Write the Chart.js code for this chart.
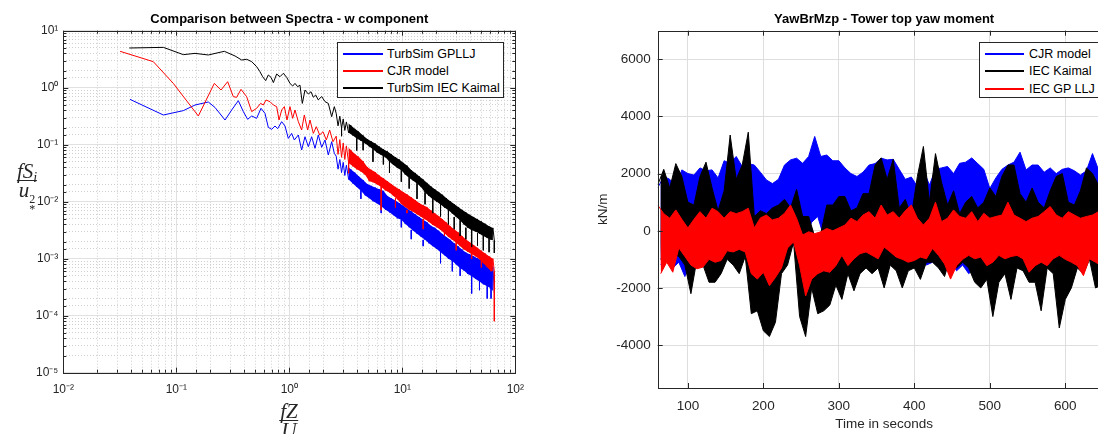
<!DOCTYPE html>
<html>
<head>
<meta charset="utf-8">
<title>Spectra and yaw moment</title>
<script src="https://cdn.jsdelivr.net/npm/chart.js@4.4.1/dist/chart.umd.min.js"></script>
<style>
  html, body { margin: 0; padding: 0; background: #fff; overflow: hidden; }
  body { width: 1098px; height: 434px; position: relative; font-family: "Liberation Sans", Arial, sans-serif; }
  canvas { position: absolute; top: 0; }
  #spectra { left: 0; }
  #moment { left: 560px; }
  .legend { position: absolute; background: #fff; border: 1px solid #262626; box-sizing: border-box; font-size: 12.5px; color: #000; }
  .legend .row { position: absolute; left: 0; height: 0; }
  .legend .swatch { position: absolute; height: 2px; top: -1px; }
  .legend .txt { position: absolute; top: -8px; line-height: 16px; white-space: nowrap; }
  .frac { position: absolute; transform: translateX(-50%); font-family: "Liberation Serif", serif; font-style: italic; font-size: 21px; color: #262626; display: flex; flex-direction: column; align-items: center; }
  .frac .num { height: 17px; line-height: 17px; padding: 0 2px; white-space: nowrap; }
  .frac .den { border-top: 1px solid #262626; line-height: 18px; padding: 0 2px; white-space: nowrap; }
  .frac sub { font-size: 14px; line-height: 0; vertical-align: -4px; }
  .frac .ss { display: inline-flex; flex-direction: column; font-size: 12px; line-height: 10px; vertical-align: -6px; font-style: normal; }
</style>
</head>
<body>
<canvas id="spectra" width="540" height="434"></canvas>
<canvas id="moment" width="560" height="434"></canvas>

<div class="legend" style="left:337px;top:42px;width:167px;height:56px">
  <div class="row" style="top:11px"><span class="swatch" style="left:5px;width:40px;background:#0000ff"></span><span class="txt" style="left:49px">TurbSim GPLLJ</span></div>
  <div class="row" style="top:28px"><span class="swatch" style="left:5px;width:40px;background:#ff0000"></span><span class="txt" style="left:49px">CJR model</span></div>
  <div class="row" style="top:45px"><span class="swatch" style="left:5px;width:40px;background:#000000"></span><span class="txt" style="left:49px">TurbSim IEC Kaimal</span></div>
</div>

<div class="legend" style="left:979px;top:42px;width:126px;height:56px">
  <div class="row" style="top:11px"><span class="swatch" style="left:5px;width:39px;background:#0000ff"></span><span class="txt" style="left:49px">CJR model</span></div>
  <div class="row" style="top:28px"><span class="swatch" style="left:5px;width:39px;background:#000000"></span><span class="txt" style="left:49px">IEC Kaimal</span></div>
  <div class="row" style="top:46px"><span class="swatch" style="left:5px;width:39px;background:#ff0000"></span><span class="txt" style="left:49px">IEC GP LLJ</span></div>
</div>

<div class="frac" style="left:27px;top:163px"><span class="num">fS<sub>i</sub></span><span class="den">u<span class="ss"><span>2</span><span>*</span></span></span></div>
<div class="frac" style="left:289px;top:403px"><span class="num">fZ</span><span class="den">U</span></div>

<script>
// ---- left panel: normalised spectra, w component ----
const freqLowBlue = [0.0389, 0.0768, 0.1154, 0.1464, 0.192, 0.22, 0.27, 0.309, 0.354, 0.392,
  0.428, 0.465, 0.514, 0.562, 0.609, 0.652, 0.698, 0.747, 0.789, 0.856,
  0.916, 0.98, 1.049, 1.108, 1.202, 1.286, 1.377, 1.474, 1.577, 1.688,
  1.806, 1.934, 2.07, 2.215, 2.371, 2.503];
const specLowBlue = [0.625, 0.332, 0.396, 0.497, 0.561, 0.45, 0.271, 0.406, 0.592, 0.38,
  0.279, 0.319, 0.29, 0.435, 0.355, 0.2017, 0.186, 0.213, 0.191, 0.2535,
  0.213, 0.129, 0.158, 0.121, 0.148, 0.0807, 0.138, 0.0923, 0.138, 0.0864,
  0.148, 0.0899, 0.121, 0.0659, 0.113, 0.0706];

const freqLowRed = [0.0318, 0.0626, 0.0941, 0.1567, 0.217, 0.2486, 0.2848, 0.3196, 0.342, 0.3737,
  0.4195, 0.4645, 0.514, 0.558, 0.589, 0.622, 0.675, 0.7225, 0.773, 0.811,
  0.856, 0.904, 0.954, 1.014, 1.071, 1.123, 1.202, 1.286, 1.358, 1.454,
  1.525, 1.632, 1.734, 1.857, 1.987, 2.127, 2.276, 2.436];
const specLowRed = [4.35, 2.86, 1.19, 0.319, 1.19, 0.911, 1.276, 0.696, 0.678, 0.936,
  0.696, 0.38, 0.435, 0.532, 0.497, 0.608, 0.569, 0.497, 0.465, 0.271,
  0.406, 0.465, 0.271, 0.465, 0.29, 0.406, 0.2535, 0.181, 0.332, 0.181,
  0.271, 0.158, 0.207, 0.148, 0.169, 0.121, 0.181, 0.113];

const freqLowBlack = [0.0384, 0.0768, 0.1154, 0.1464, 0.192, 0.266, 0.331, 0.379, 0.42, 0.465,
  0.514, 0.55, 0.581, 0.618, 0.652, 0.689, 0.723, 0.773, 0.827, 0.886,
  0.948, 1.014, 1.071, 1.123, 1.186, 1.243, 1.304, 1.377, 1.474, 1.556,
  1.632, 1.711, 1.806, 1.934, 2.07, 2.215, 2.371, 2.503];
const specLowBlack = [4.97, 5.1, 3.8, 4.0, 3.75, 4.35, 3.6, 3.06, 3.15, 2.86,
  2.34, 1.91, 1.56, 1.33, 1.67, 1.52, 1.23, 1.74, 1.56, 1.79,
  1.52, 1.19, 1.07, 1.19, 1.04, 1.11, 0.53, 0.91, 0.775, 0.85,
  0.68, 0.745, 0.61, 0.70, 0.57, 0.53, 0.31, 0.465];

// dense high-frequency part, read as alternating upper / lower edge of each band
const freqHigh = [2.6, 2.7, 2.8, 2.9, 3.0, 3.1, 3.2, 3.35, 3.5, 3.65,
  3.8, 3.95, 4.1, 4.3, 4.5, 4.7, 4.9, 5.1, 5.3, 5.5,
  5.75, 6.0, 6.25, 6.5, 6.8, 7.1, 7.4, 7.7, 8.0, 8.35,
  8.7, 9.05, 9.4, 9.8, 10.2, 10.6, 11.0, 11.5, 12.0, 12.5,
  13.0, 13.5, 14.1, 14.7, 15.3, 15.9, 16.5, 17.2, 17.9, 18.6,
  19.4, 20.2, 21.0, 21.8, 22.7, 23.6, 24.6, 25.6, 26.6, 27.7,
  28.8, 30.0, 31.2, 32.5, 33.8, 35.1, 36.5, 38.0, 39.5, 41.1,
  42.8, 44.5, 46.3, 48.2, 50.1, 52.1, 54.2, 56.4, 58.6, 61.0,
  63.4, 65.2];
const specHighBlue = [0.063, 0.0372, 0.055, 0.0324, 0.049, 0.0288, 0.0437, 0.0245, 0.0372, 0.0209,
  0.0324, 0.0182, 0.0282, 0.0155, 0.024, 0.0129, 0.0204, 0.0115, 0.019, 0.0102,
  0.0178, 0.0093, 0.0166, 0.0083, 0.0155, 0.0072, 0.0126, 0.0065, 0.0115, 0.0058,
  0.0105, 0.0051, 0.0095, 0.0048, 0.0085, 0.0041, 0.0076, 0.00355, 0.0068, 0.0031,
  0.006, 0.00275, 0.0054, 0.0024, 0.0048, 0.00214, 0.0044, 0.00186, 0.0038, 0.00166,
  0.0035, 0.00148, 0.0031, 0.0013, 0.0027, 0.00115, 0.0024, 0.001, 0.00214, 0.00091,
  0.00186, 0.00079, 0.00166, 0.00068, 0.00145, 0.00062, 0.00129, 0.00054, 0.0012, 0.00049,
  0.0011, 0.00044, 0.00102, 0.0004, 0.00095, 0.000355, 0.00089, 0.00033, 0.00079, 0.0003,
  0.00072, 0.00025];
const specHighRed = [0.141, 0.0676, 0.123, 0.06, 0.107, 0.055, 0.0955, 0.0479, 0.081, 0.0417,
  0.069, 0.037, 0.0617, 0.0339, 0.0513, 0.0295, 0.0407, 0.0229, 0.0363, 0.0219,
  0.0331, 0.02, 0.0288, 0.0182, 0.0257, 0.0158, 0.0229, 0.0145, 0.0204, 0.0126,
  0.0182, 0.011, 0.0166, 0.0091, 0.0148, 0.0081, 0.0135, 0.0072, 0.012, 0.0066,
  0.0107, 0.006, 0.0095, 0.0054, 0.0087, 0.0049, 0.0081, 0.0044, 0.0071, 0.0039,
  0.0063, 0.00355, 0.0056, 0.0032, 0.0049, 0.0028, 0.0043, 0.0024, 0.0037, 0.00214,
  0.0033, 0.0019, 0.0029, 0.00166, 0.0025, 0.00145, 0.00219, 0.00132, 0.00195, 0.0012,
  0.00174, 0.0011, 0.00155, 0.00098, 0.00138, 0.00083, 0.00123, 0.00071, 0.0011, 0.0006,
  0.001, 0.0006];
const specHighBlack = [0.355, 0.214, 0.316, 0.195, 0.282, 0.178, 0.251, 0.162, 0.219, 0.145,
  0.19, 0.129, 0.17, 0.117, 0.145, 0.105, 0.126, 0.093, 0.115, 0.083,
  0.105, 0.072, 0.093, 0.066, 0.083, 0.06, 0.076, 0.05, 0.068, 0.044,
  0.06, 0.039, 0.055, 0.0355, 0.048, 0.03, 0.043, 0.026, 0.036, 0.0234,
  0.032, 0.0209, 0.028, 0.018, 0.0245, 0.0145, 0.0214, 0.0126, 0.0186, 0.011,
  0.0166, 0.01, 0.0148, 0.0089, 0.0132, 0.0079, 0.0115, 0.0071, 0.0102, 0.0062,
  0.0091, 0.0054, 0.0081, 0.0047, 0.0072, 0.004, 0.0065, 0.0035, 0.0059, 0.00316,
  0.0054, 0.003, 0.0049, 0.00275, 0.0045, 0.0025, 0.0041, 0.0023, 0.0037, 0.00214,
  0.00347, 0.0021];

// narrow downward spikes below the bands: frequency, band edge, spike tip
const spikeFreqBlue = [4.3, 6.5, 9.8, 12.0, 15.3, 21.8, 27.7, 32.5, 41.1, 48.2, 56.4, 61.0];
const spikeTopBlue = [0.0155, 0.0083, 0.0048, 0.0032, 0.00214, 0.0013, 0.001, 0.00068, 0.00049, 0.00045, 0.00033, 0.00032];
const spikeTipBlue = [0.0112, 0.0063, 0.00355, 0.0022, 0.00166, 0.00083, 0.0006, 0.0005, 0.000245, 0.00028, 0.0002, 0.0002];
const spikeFreqRed = [3.35, 6.5, 8.7, 11.0, 15.3, 23.6, 30.0, 41.1, 50.1, 65.2];
const spikeTopRed = [0.0479, 0.0182, 0.0115, 0.0072, 0.005, 0.0028, 0.0019, 0.0012, 0.001, 0.0006];
const spikeTipRed = [0.0316, 0.0071, 0.0079, 0.0063, 0.0033, 0.0025, 0.0014, 0.001, 0.0007, 0.00008];
const spikeFreqBlack = [2.9, 3.95, 4.5, 5.5, 6.8, 7.7, 9.8, 11.5, 13.5, 15.9, 18.6, 21.8, 25.6, 28.8, 32.5, 36.5, 41.1, 46.3, 52.1, 58.6, 65.2];
const spikeTopBlack = [0.195, 0.129, 0.115, 0.083, 0.066, 0.05, 0.0355, 0.026, 0.0209, 0.0145, 0.011, 0.0089, 0.0071, 0.0054, 0.0047, 0.0035, 0.00316, 0.0028, 0.0025, 0.0023, 0.0021];
const spikeTipBlack = [0.141, 0.079, 0.08, 0.05, 0.045, 0.032, 0.0224, 0.017, 0.0112, 0.009, 0.0063, 0.0055, 0.004, 0.0033, 0.0025, 0.0022, 0.0016, 0.0017, 0.0014, 0.0013, 0.00126];

const spectraXTicks = [0.01, 0.1, 1, 10, 100];
const spectraXLabels = ['10⁻²', '10⁻¹', '10⁰', '10¹', '10²'];
const spectraYTicks = [1e-5, 1e-4, 1e-3, 1e-2, 1e-1, 1, 10];
const spectraYLabels = ['10⁻⁵', '10⁻⁴', '10⁻³', '10⁻²', '10⁻¹', '10⁰', '10¹'];

// ---- right panel: YawBrMzp time series, read as alternating upper / lower edge ----
const timeSeconds = [60, 64, 68, 72, 76, 80, 84, 88, 92, 96,
  100, 104, 108, 112, 116, 120, 124, 128, 132, 136,
  140, 144, 148, 152, 156, 160, 164, 168, 172, 176,
  180, 184, 188, 192, 196, 200, 204, 208, 212, 216,
  220, 224, 228, 232, 236, 240, 244, 248, 252, 256,
  260, 264, 268, 272, 276, 280, 284, 288, 292, 296,
  300, 304, 308, 312, 316, 320, 324, 328, 332, 336,
  340, 344, 348, 352, 356, 360, 364, 368, 372, 376,
  380, 384, 388, 392, 396, 400, 404, 408, 412, 416,
  420, 424, 428, 432, 436, 440, 444, 448, 452, 456,
  460, 464, 468, 472, 476, 480, 484, 488, 492, 496,
  500, 504, 508, 512, 516, 520, 524, 528, 532, 536,
  540, 544, 548, 552, 556, 560, 564, 568, 572, 576,
  580, 584, 588, 592, 596, 600, 604, 608, 612, 616,
  620, 624, 628, 632, 636, 640, 644, 648, 652, 656,
  660];
const momentCJR = [1500, -1200, 1900, -900, 1800, -1300, 1550, -1100, 2130, -1600,
  2000, -1000, 1950, -800, 2200, -1100, 2100, -900, 2130, -1000,
  1850, -700, 2450, -900, 2360, -800, 2600, -700, 2250, -600,
  2350, -900, 2300, -1000, 2050, -1200, 1780, -1100, 1650, -900,
  1800, -800, 2300, -700, 2480, -500, 2540, -300, 2360, -200,
  2600, 300, 3300, 500, 2600, -200, 2650, -600, 2450, -800,
  2450, -700, 2200, -900, 2000, -1000, 1900, -1100, 2050, -1000,
  2300, -800, 2350, -600, 2540, -900, 2480, -700, 2500, -1000,
  2150, -1100, 1800, -1200, 1880, -1000, 1550, -900, 2130, -1200,
  1600, -1100, 2150, -1000, 2200, -1300, 2250, -1100, 2000, -1400,
  2360, -1200, 2400, -1500, 2550, -1300, 2350, -1100, 2150, -1200,
  1480, -1400, 1850, -1000, 2150, -900, 2300, -1100, 2400, -1000,
  2750, -1200, 2130, -1300, 2300, -1100, 2300, -1200, 2050, -1300,
  2200, -1000, 2000, -1100, 2150, -1300, 2200, -1000, 2100, -1200,
  1950, -1100, 2100, -900, 2700, -1000, 2130, -1200, 2200, -1100,
  2000];
const momentKaimal = [1600, -1000, 2150, -600, 1500, -800, 2350, -900, 1900, -1200,
  1000, -2200, 900, -1000, 1900, -1200, 2400, -1800, 1500, -1800,
  700, -1500, 1400, -1000, 3350, -1200, 1800, -1500, 2300, -900,
  3450, -2900, 500, -2800, 700, -3500, 600, -3700, 800, -3200,
  900, -1500, 1100, -1200, 800, -400, 1450, -3000, 500, -3700,
  500, -2000, -200, -2900, -100, -2800, 900, -2600, 900, -1900,
  1200, -2400, 1200, -1500, 700, -2100, 800, -1500, 1300, -1300,
  1300, -1500, 2300, -1300, 2550, -2000, 1800, -1200, 2500, -1400,
  800, -2000, 1100, -1400, 500, -1300, 1900, -1700, 2950, -1100,
  1000, -1100, 2700, -1300, 1700, -1600, 900, -900, 1400, -1300,
  600, -1100, 1000, -1300, 1200, -1800, 800, -2000, 1000, -1700,
  1500, -3000, 1200, -1800, 1900, -1500, 2300, -2400, 2300, -1300,
  1300, -1400, 1000, -1800, 1500, -1800, 1000, -2800, 800, -1300,
  1400, -1500, 1900, -3400, 2000, -2400, 1000, -2000, 900, -1300,
  1400, -1500, 2200, -1000, 2000, -2000, 1600, -1900, 1200, -1400,
  1000];
const momentLLJ = [900, -1500, 600, -1100, 440, -1450, 730, -600, 400, -900,
  100, -1200, 400, -1330, 670, -1270, 440, -1000, 790, -1100,
  670, -1040, 440, -700, 670, -740, 600, -650, 670, -740,
  790, -1500, 100, -1690, 450, -1450, 550, -1920, 380, -1630,
  440, -1300, 610, -600, 900, -390, 440, -1220, -150, -2280,
  -35, -1690, -100, -1500, -35, -1400, 80, -1450, 0, -1220,
  100, -860, 200, -1220, 440, -980, 320, -800, 550, -740,
  670, -860, 440, -980, 900, -570, 550, -740, 670, -920,
  440, -1000, 700, -1100, 900, -1040, 440, -920, 200, -980,
  440, -620, 1000, -860, 320, -1160, 440, -1690, 730, -1220,
  500, -1000, 440, -860, 670, -980, 320, -920, 610, -1220,
  440, -1100, 500, -860, 550, -980, 1000, -900, 550, -860,
  440, -980, 320, -1450, 440, -1220, 500, -1100, 670, -1220,
  850, -980, 550, -860, 440, -1000, 670, -1100, 550, -1220,
  440, -1570, 500, -980, 550, -1100, 670, -1220, 500, -1000,
  600];
const momentXTicks = [100, 200, 300, 400, 500, 600];
const momentYTicks = [-4000, -2000, 0, 2000, 4000, 6000];

// ---- helpers ----
const pts = (xs, ys) => xs.map((x, i) => ({x: x, y: ys[i]}));
const evenOf = a => a.filter((_, i) => i % 2 === 0);   // upper edge samples
const oddOf = a => a.filter((_, i) => i % 2 === 1);    // lower edge samples
const isDecade = v => Math.abs(Math.log10(v) - Math.round(Math.log10(v))) < 1e-6;
const decadeLabel = (values, labels) => v => {
  const i = values.findIndex(t => Math.abs(Math.log10(t) - Math.log10(v)) < 1e-6);
  return i < 0 ? '' : labels[i];
};
const AXIS = '#262626';
const tickFont = {family: '"Liberation Sans", Arial, sans-serif', size: 12};
const titleFont = {family: '"Liberation Sans", Arial, sans-serif', size: 13, weight: 'bold'};

// axes box with inward tick marks, like the original figure
const frame = {
  id: 'frame',
  afterDatasetsDraw(chart, args, o) {
    const {ctx, chartArea: a} = chart;
    ctx.save();
    ctx.strokeStyle = AXIS;
    ctx.lineWidth = 1;
    ctx.beginPath();
    ['x', 'y'].forEach(id => {
      const s = chart.scales[id];
      s.ticks.forEach(t => {
        const len = (!o.log || isDecade(t.value)) ? o.major : o.minor;
        const p = Math.round(s.getPixelForValue(t.value)) + 0.5;
        if (s.isHorizontal()) {
          ctx.moveTo(p, a.bottom); ctx.lineTo(p, a.bottom - len);
          ctx.moveTo(p, a.top); ctx.lineTo(p, a.top + len);
        } else {
          ctx.moveTo(a.left, p); ctx.lineTo(a.left + len, p);
          ctx.moveTo(a.right, p); ctx.lineTo(a.right - len, p);
        }
      });
    });
    ctx.stroke();
    ctx.strokeRect(Math.round(a.left) + 0.5, Math.round(a.top) + 0.5,
      Math.round(a.right - a.left), Math.round(a.bottom - a.top));
    ctx.restore();
  }
};

const majorGrid = c => isDecade(c.tick.value) ? '#e1e1e1' : 'rgba(0,0,0,0)';
const minorGrid = c => isDecade(c.tick.value) ? 'rgba(0,0,0,0)' : '#cfcfcf';

const BAND_FROM = 6; // the trace is drawn as a solid band above this sample
// one series of the spectrum: trace, filled band of its dense part, thin spikes
function spectrumSets(label, freqLow, specLow, specHigh, spikeF, spikeTop, spikeTip, color, order) {
  const bandF = freqHigh.slice(BAND_FROM), bandS = specHigh.slice(BAND_FROM);
  const spikes = [];
  spikeF.forEach((f, i) => { spikes.push({x: f, y: spikeTop[i]}, {x: f, y: spikeTip[i]}, {x: f, y: null}); });
  return [
    {label: label, data: pts(freqLow.concat(freqHigh), specLow.concat(specHigh)), borderColor: color, order: order},
    {label: label + ' spikes', data: spikes, borderColor: color, order: order},
    {label: label + ' band', data: pts(evenOf(bandF), evenOf(bandS)), borderWidth: 0, borderColor: color,
      backgroundColor: color, fill: '+1', order: order},
    {label: label + ' band low', data: pts(oddOf(bandF), oddOf(bandS)), borderWidth: 0, borderColor: color, order: order}
  ];
}

new Chart(document.getElementById('spectra'), {
  type: 'line',
  data: {
    datasets: [].concat(
      spectrumSets('TurbSim GPLLJ', freqLowBlue, specLowBlue, specHighBlue, spikeFreqBlue, spikeTopBlue, spikeTipBlue, '#0000ff', 3),
      spectrumSets('CJR model', freqLowRed, specLowRed, specHighRed, spikeFreqRed, spikeTopRed, spikeTipRed, '#ff0000', 2),
      spectrumSets('TurbSim IEC Kaimal', freqLowBlack, specLowBlack, specHighBlack, spikeFreqBlack, spikeTopBlack, spikeTipBlack, '#000000', 1)
    )
  },
  options: {
    responsive: false, animation: false, devicePixelRatio: 1, events: [],
    elements: {point: {radius: 0}, line: {borderWidth: 1, tension: 0}},
    layout: {padding: {left: 0, right: 24.7, top: 0, bottom: 0}},
    plugins: {
      legend: {display: false}, tooltip: {enabled: false},
      filler: {drawTime: 'beforeDatasetDraw'},
      title: {display: true, fullSize: false, text: 'Comparison between Spectra - w component', color: '#000', font: titleFont, padding: {top: 12, bottom: 3.1}},
      frame: {log: true, major: 5, minor: 3}
    },
    scales: {
      x: {type: 'logarithmic', min: 0.01, max: 100, afterFit: s => { s.height = 61.3; },
        grid: {color: majorGrid, drawTicks: false}, border: {display: false},
        ticks: {autoSkip: false, maxRotation: 0, padding: 10, color: AXIS, font: tickFont, callback: decadeLabel(spectraXTicks, spectraXLabels)}},
      y: {type: 'logarithmic', min: 1e-5, max: 10, afterFit: s => { s.width = 63.3; },
        grid: {color: majorGrid, drawTicks: false}, border: {display: false},
        ticks: {autoSkip: false, padding: 5, color: AXIS, font: tickFont, callback: decadeLabel(spectraYTicks, spectraYLabels)}},
      xMinor: {axis: 'x', type: 'logarithmic', position: 'bottom', min: 0.01, max: 100, afterFit: s => { s.height = 0; },
        grid: {color: minorGrid, drawTicks: false, borderDash: [1, 2]}, border: {display: false, dash: [1, 2]},
        ticks: {display: false, autoSkip: false}},
      yMinor: {axis: 'y', type: 'logarithmic', position: 'left', min: 1e-5, max: 10, afterFit: s => { s.width = 0; },
        grid: {color: minorGrid, drawTicks: false, borderDash: [1, 2]}, border: {display: false, dash: [1, 2]},
        ticks: {display: false, autoSkip: false}}
    }
  },
  plugins: [frame]
});

// one time series: band between its upper and lower edge
function momentSets(label, values, color, order) {
  return [
    {label: label, data: pts(evenOf(timeSeconds), evenOf(values)), borderColor: color, backgroundColor: color, fill: '+1', order: order},
    {label: label + ' low', data: pts(oddOf(timeSeconds), oddOf(values)), borderColor: color, order: order}
  ];
}

const momentFont = {family: '"Liberation Sans", Arial, sans-serif', size: 13.5};

new Chart(document.getElementById('moment'), {
  type: 'line',
  data: {
    datasets: [].concat(
      momentSets('CJR model', momentCJR, '#0000ff', 3),
      momentSets('IEC Kaimal', momentKaimal, '#000000', 2),
      momentSets('IEC GP LLJ', momentLLJ, '#ff0000', 1)
    )
  },
  options: {
    responsive: false, animation: false, devicePixelRatio: 1, events: [],
    elements: {point: {radius: 0}, line: {borderWidth: 1, tension: 0}},
    layout: {padding: {left: 0, right: 9.4, top: 0, bottom: 0}},
    plugins: {
      legend: {display: false}, tooltip: {enabled: false},
      filler: {drawTime: 'beforeDatasetDraw'},
      title: {display: true, fullSize: false, text: 'YawBrMzp - Tower top yaw moment', color: '#000', font: titleFont, padding: {top: 12, bottom: 3.1}},
      frame: {log: false, major: 5, minor: 5}
    },
    scales: {
      x: {type: 'linear', min: 60, max: 660,
        afterBuildTicks: s => { s.ticks = momentXTicks.map(v => ({value: v})); },
        afterFit: s => { s.height = 46; },
        grid: {color: '#dedede', drawTicks: false}, border: {display: false},
        ticks: {padding: 10, maxRotation: 0, color: AXIS, font: momentFont, callback: v => String(v)},
        title: {display: true, text: 'Time in seconds', color: AXIS, font: momentFont, padding: {top: 0, bottom: 2}}},
      y: {type: 'linear', min: -5500, max: 7000,
        afterBuildTicks: s => { s.ticks = momentYTicks.map(v => ({value: v})); },
        afterFit: s => { s.width = 97.7; },
        grid: {color: '#dedede', drawTicks: false}, border: {display: false},
        ticks: {padding: 7, color: AXIS, font: momentFont, callback: v => String(v)},
        title: {display: true, text: 'kN/m', color: AXIS, font: momentFont, padding: {top: 35, bottom: 0}}}
    }
  },
  plugins: [frame]
});
</script>
</body>
</html>
